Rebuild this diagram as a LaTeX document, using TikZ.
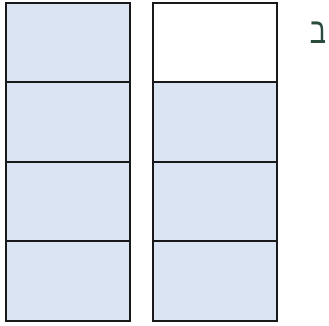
\documentclass[tikz,border=0pt]{standalone}
\usepackage{fontspec}
\newfontfamily\hebfont[Script=Hebrew]{Liberation Sans}
\TeXXeTstate=1
\usetikzlibrary{positioning}
\definecolor{cellblue}{RGB}{219,228,242}
\definecolor{letgreen}{RGB}{40,75,60}

\begin{document}
\begin{tikzpicture}[x=1pt, y=-1pt,
					cell/.style={rectangle, draw=black!90, fill=cellblue, line width=2pt, minimum width=124pt, minimum height=80pt, inner sep=0pt, outer sep=0pt}
					]
					\useasboundingbox (0,0) rectangle (329,325);
					
					%Nodes
					\node[cell] (a1) at (68, 43)   {};
					\node[cell] (a2) at (68, 122)  {};
					\node[cell] (a3) at (68, 202)  {};
					\node[cell] (a4) at (68, 281)  {};
					\node[cell, fill=white] (b1) at (215, 43)  {};
					\node[cell] (b2) at (215, 122) {};
					\node[cell] (b3) at (215, 202) {};
					\node[cell] (b4) at (215, 281) {};
					
					%Label
					\node[text=letgreen, inner sep=0pt, xscale=0.75] (bet) at (318, 33) {\fontsize{36}{38}\selectfont\hebfont\beginR ב\endR};
				\end{tikzpicture}
\end{document}
